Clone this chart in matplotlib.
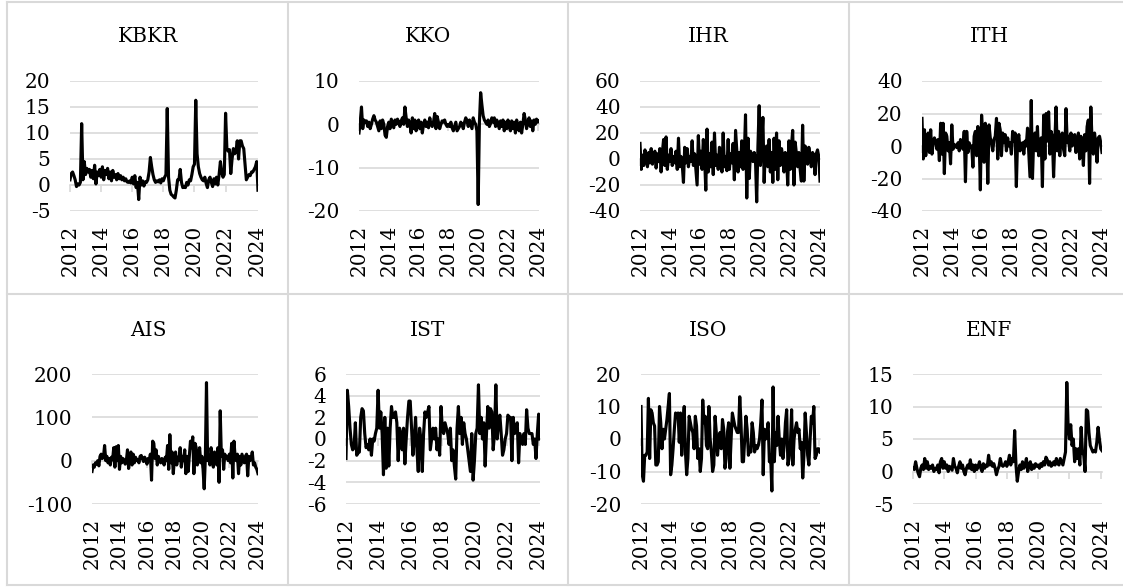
import numpy as np
import matplotlib
matplotlib.use("Agg")
from matplotlib import pyplot as plt
from matplotlib.lines import Line2D

plt.rcParams['font.family'] = ['DejaVu Serif']
plt.rcParams['axes.unicode_minus'] = False

# monthly series, 2012-01 .. 2024-02 (146 points)
years = ['2012', '2014', '2016', '2018', '2020', '2022', '2024']

kbkr = [1.0, 2.2, 2.5, 1.8, 1.0, -0.3, 0.2, 0.0, 0.5,
        11.8,
        1.0, 4.5, 2.0, 3.2, 2.5, 3.0, 1.5, 2.8, 1.2, 3.8, 0.2, 2.5, 1.8, 3.0,
        1.5, 3.5, 1.0, 2.8, 2.0, 3.2, 1.2, 2.5, 0.8, 2.8, 1.5, 2.0, 1.0, 2.2, 1.2, 1.8, 1.0, 1.5, 0.8, 1.2, 0.6, 0.5, 0.8, 0.4,
        1.5, 0.2, 1.8, -0.5, 0.5, -2.8, 1.5, 0.0, 0.8, -0.2, 0.6, 0.5,
        1.0, 2.5, 5.3, 3.5, 2.0, 1.0, 0.5, 0.8, 0.6, 1.0, 0.4, 1.2,
        0.8, 1.5, 2.0, 14.7, 1.5, -1.0, -1.8, -2.0, -2.3, -2.5, -1.0, 1.0,
        1.0, 3.0, 0.5, -0.5, -0.3, -0.5, 0.5, 0.0, 1.0, 0.8, 2.0, 3.5,
        4.0, 16.3, 6.0, 3.5, 2.2, 1.5, 1.0, 0.8, 1.5, 0.3, -0.5, 1.0,
        1.5, 0.5, -0.3, 1.2, 0.2, 1.5, 0.0, 2.0, 4.5, 2.5, 1.5, 2.0,
        13.8, 7.0, 6.5, 6.8, 2.2, 5.0, 7.0, 6.0, 6.5, 8.5, 5.0, 8.5,
        8.5, 7.5, 7.0, 4.0, 1.0, 1.5, 2.0, 1.8, 2.5, 2.5, 3.0, 3.5, 4.5, -1.0]

kko = [-2.0, 0.5, 4.0, -1.0, 1.0, 0.5, 0.8, -0.5, 0.5, -1.0, 0.0, 1.2,
       2.0, 1.0, 0.5, -0.5, -1.5, 0.8, -1.0, 1.0, 0.0, -2.5, -3.0, -0.5,
       0.5, -1.0, 1.2, 0.2, -0.8, 1.0, 0.0, 1.2, 0.5, -0.5, 0.8, 1.5,
       0.0, 4.0, 1.5, -0.5, 1.0, 0.0, -2.0, 1.5, -1.0, 1.0, -1.5, 0.5,
       1.0, -1.0, 0.5, -2.0, 0.0, 1.0, -0.5, 0.5, -0.8, 1.5, 0.0, -0.5,
       0.5, 2.5, -1.0, 1.8, 0.5, -1.0, 0.0, 0.8, 0.5, 1.0, 0.0, -0.5,
       0.0, -0.5, 0.5, -0.8, -1.5, -0.5, 0.5, -1.5, -1.0, -0.5, 0.5, 0.0,
       -1.0, 0.5, 1.5, 0.8, -0.5, 1.0, 0.0, -1.0, 1.5, 0.5, 0.0, -1.5,
       -18.5, 0.5, 7.3, 4.5, 2.0, 1.0, 0.5, 0.0, 1.0, -0.5, 0.2, 1.5,
       0.5, 1.5, -0.5, 1.0, 0.0, -1.0, 0.8, -0.5, 1.0, -1.5, 0.5, -1.0,
       1.0, -0.5, -1.5, 0.8, -1.0, 0.5, -2.0, 1.0, -0.5, -1.5, 0.5, -2.0,
       0.0, 2.5, 1.0, -1.0, 0.5, 1.5, -0.5, 0.8, -1.5, 1.0, 0.0, 1.2, 0.5, 0.8]

ihr = [12, -8, 3, -5, 7, 2, -6, 5, -3, 8, -4, 2,
       6, -7, 4, -2, 8, -10, 5, 15, -5, 17, -8, 3,
       -2, 8, -5, 2, -3, 6, -8, 16, -6, 2, -4, -18,
       9, -3, 8, -6, 2, -2, 14, -5, 4, -8, -20, 18,
       -4, 6, -8, 15, 2, -24, 23, -10, 4, -6, 13, -12,
       20, -5, 3, -8, 9, 4, -10, 20, -6, 2, -9, 15,
       -8, 4, -3, 12, -16, 22, 6, -10, 5, -6, 14, -8,
       2, 34, -30, 16, -15, 6, 3, -2, 5, 0, -33, 10,
       41, -5, 12, 32, -18, 8, 10, -6, 15, -10, 5, -18,
       16, -8, 20, -16, 14, -5, 8, 2, -10, 5, 3, -20,
       14, -8, 10, 22, -20, 13, 4, -6, 5, -8, -17, 26,
       -17, 10, 8, -4, 9, 2, -6, 5, 3, -12, 4, 7, 2, -17]

ith = [17, -8, 10, -6, 3, 8, -4, 10, -5, 2, 5, 3,
       -2, 4, -9, 14, -5, 14, -17, 8, 6, -3, 2, -11,
       13, -2, 1, 0, -1, 2, -3, 4, 0, -2, 9, -22,
       9, -4, 2, -1, 0, -13, 6, 9, -6, 12, 5, -27,
       19, 6, -10, 14, 9, -23, 13, 5, 2, -3, 4, 6,
       17, -8, 14, 10, -6, 8, 2, 7, -3, 5, 0, 2,
       -5, 9, 3, 8, -25, 4, 7, -3, 1, 2, -5, 3,
       0, 11, -4, -19, 28, -20, 5, 8, -3, 12, -6, 3,
       5, -25, 19, -8, 20, 3, 21, -5, 9, 6, -19, 2,
       24, -3, 9, -6, 5, 8, -2, -6, 23, 2, 6, -3,
       8, 0, 5, 7, -4, 3, 8, -8, 6, 2, -12, 7,
       -3, 12, 16, -23, 24, 3, -5, 8, 1, -10, 5, 6, 2, -4]

ais = [-25, -10, -15, -5, -8, 0, -12, 10, 15, 5, 8, 35,
       0, 10, -5, 5, -10, 8, 2, 30, -15, 32, 0, 35,
       -20, 10, -5, 5, 2, -8, 0, 25, -18, 10, 20, -10,
       15, -5, 8, 0, 3, -5, 10, 12, 5, -2, 8, 2,
       -8, 5, 0, 15, -45, 45, 40, 5, 25, -10, 10, 0,
       -5, 5, 2, -10, 8, 0, 35, -20, 60, -5, 20, -30,
       5, 20, -10, 8, 0, 30, -15, 10, 0, 25, -30, 10,
       -25, 10, 45, 30, 55, -30, 40, 30, -10, 5, 30, -5,
       10, -20, -65, 5, 180, 0, 10, -10, 30, 5, -15, 20,
       5, -10, 30, -50, 115, 10, 25, -20, 15, 5, 10, 0,
       15, -5, 40, -40, 45, 10, 0, 15, -30, 10, -10, 15,
       5, -5, 10, 15, -35, 10, 0, 5, 20, -10, -5, -15, -20, -30]

ist = [-1.8, 4.5, 3.0, 1.0, -0.5, -1.0, -0.8, 1.5, -1.5, -1.3, -1.2, 2.0,
       2.8, 2.6, 0.5, -0.8, -0.5, -1.0, 0.0, -1.5, 0.0, -0.2, 0.5, 1.0,
       4.5, 1.0, 2.5, 0.5, -3.3, 2.0, -2.7, 1.0, -2.5, 1.0, 3.0, 2.0,
       2.0, 2.5, 1.5, -2.0, 1.0, 0.5, -1.0, 1.0, -2.3, 0.0, 2.0, 3.5,
       3.5, 1.0, -1.5, 0.0, 2.0, -1.0, -3.0, 1.0, 0.0, -3.0, 0.5, 2.5,
       2.0, 2.5, 3.0, -1.0, 0.0, 1.0, 0.0, 1.0, -1.0, 0.0, -1.5, 3.0,
       1.0, 0.5, 1.5, 1.0, 0.5, -0.5, 1.0, -2.0, -1.0, -2.5, -3.7, 1.0,
       3.0, 0.5, 2.0, -0.5, 1.5, 0.5, 0.0, -1.0, -2.0, -3.0, 0.5, -3.8,
       -2.0, 0.5, 1.0, 5.0, 0.5, 2.0, 0.0, 1.5, -2.5, 0.5, 3.0, 1.0,
       2.8, 2.5, -1.0, 0.5, 5.0, 0.0, 1.5, 2.2, 0.5, -1.5, -1.0, 0.0,
       0.5, 2.2, 2.0, 2.0, -2.0, 2.0, 0.5, 1.0, 1.5, -2.2, 0.5, 0.0,
       -0.5, 0.5, -0.5, 2.7, 1.0, 0.5, 0.5, 0.5, -0.5, 0.0, -1.8, 0.5, 2.3, 0.0]

iso = [10, -11, -13, -5, -5, -4, 12.5, -6, 9, 8, 5, 4,
       -8, -8, -7, 10, 5, -3, 3, 0, 3, 6, 10, 14,
       -11, -8, -3, 3, 8, 7, 8, -1, 8, -5, 4, 10,
       -4, -11, -6, 7, 5, 3, 2, -3, 7, 4, -6, -3,
       -10, -6, 12, 5, 7, -2, -3, 10, 0, -4, -10, -8,
       7, 2, -5, 0, 2, -3, 6, 3, -9, -6, 2, 5,
       -9, 0, 8, 6, 4, 3, 2, 2, 13, 5, -7, -7,
       0, 7, 3, -5, -3, -4, 5, 2, -4, -2, -3, -2,
       0, 5, 12, -11, 3, 0, 2, 5, -7, -5, -16, 16,
       -7, 2, -2, 7, 0, -5, 0, -6, -2, 5, 9, -8,
       -6, -2, 9, -8, 0, 3, 5, 2, 3, -3, -1, -12,
       -5, 8, 2, -5, -8, 0, 7, 5, 10, -6, -5, -3, -3, -4]

enf = [0.5, 0.3, 1.5, 0.5, -0.3, -0.8, 0.5, 1.0, 0.3, 2.0, 0.5, 1.5,
       0.3, 0.8, 0.5, 1.0, 0.0, 0.5, 0.3, 1.0, -0.2, 1.5, 2.0, 0.5,
       1.5, 0.5, 1.0, 0.0, 0.8, 0.5, 0.2, 2.0, 0.8, 0.5, -0.2, 0.8,
       1.5, 0.5, 1.0, 0.0, -0.5, 0.5, 1.0, 0.5, 1.8, 0.3, 1.0, 0.0,
       1.0, 0.3, 0.8, 1.5, 0.5, 0.0, 1.2, 0.5, 1.0, 0.8, 2.5, 1.0,
       1.5, 0.8, 1.2, 0.5, -0.5, 0.3, 0.8, 2.0, 1.0, 0.8, 1.0, 1.5,
       0.8, 1.5, 2.5, 1.0, 2.0, 1.5, 6.3, 1.0, -1.5, 0.0, 1.0, 0.3,
       1.5, 0.5, 1.0, 2.0, 0.0, 1.0, 1.5, 0.3, 1.0, 0.5, 1.2, 0.8,
       1.0, 0.5, 1.2, 0.8, 1.5, 1.0, 2.2, 1.8, 1.0, 1.5, 0.8, 1.0,
       1.5, 1.0, 2.0, 1.2, 1.0, 2.0, 1.5, 1.0, 2.0, 3.0, 13.7, 7.0,
       5.0, 7.2, 4.0, 5.0, 1.5, 3.5, 2.0, 3.5, 1.0, 6.8, 3.0, 2.5,
       0.0, 9.5, 9.3, 6.0, 4.0, 3.5, 3.0, 3.2, 3.0, 4.5, 6.8, 5.0, 3.5, 3.2]

W, H = 1123, 587
GRID = '#d9d9d9'
FS = 14.5

# name, data, y ticks, plot box in pixels (left, top, right, bottom), panel centre x, title y
panels = [
    ('KBKR', kbkr, [-5, 0, 5, 10, 15, 20], (70, 81, 258, 211), 148, 37),
    ('KKO', kko, [-20, -10, 0, 10], (359, 81, 539, 211), 428, 37),
    ('IHR', ihr, [-40, -20, 0, 20, 40, 60], (640, 81, 820, 211), 708, 37),
    ('ITH', ith, [-40, -20, 0, 20, 40], (922, 81, 1102, 211), 989, 37),
    ('AIS', ais, [-100, 0, 100, 200], (92, 374, 258, 504), 148, 330),
    ('IST', ist, [-6, -4, -2, 0, 2, 4, 6], (346, 374, 540, 504), 428, 330),
    ('ISO', iso, [-20, -10, 0, 10, 20], (641, 374, 820, 504), 708, 330),
    ('ENF', enf, [-5, 0, 5, 10, 15], (913, 374, 1102, 504), 989, 330),
]

fig = plt.figure(figsize=(W / 100, H / 100), dpi=100)

# panel borders
for xp in [7, 288, 568, 849]:
    fig.add_artist(Line2D([xp / W, xp / W], [1 - 2 / H, 1 - 585 / H], color=GRID, lw=1.5))
for yp in [2, 294, 585]:
    fig.add_artist(Line2D([7 / W, 1], [1 - yp / H, 1 - yp / H], color=GRID, lw=1.5))

for name, vals, yt, box, cx, ty in panels:
    l, t, r, b = box
    ax = fig.add_axes([l / W, 1 - b / H, (r - l) / W, (b - t) / H])
    x = np.arange(len(vals))
    ax.plot(x, vals, color='black', lw=2.25, solid_joinstyle='round')
    ax.set_xlim(0, len(vals) - 1)
    ax.set_ylim(yt[0], yt[-1])
    ax.set_yticks(yt)
    ax.set_yticklabels([str(v) for v in yt])
    ax.tick_params(axis='y', length=0, pad=14, labelsize=FS)
    ax.grid(axis='y', color=GRID, lw=1.2)
    ax.set_axisbelow(True)
    for s in ['top', 'right', 'left']:
        ax.spines[s].set_visible(False)
    # category axis crosses at zero
    ax.spines['bottom'].set_position(('data', 0))
    ax.spines['bottom'].set_color(GRID)
    ax.spines['bottom'].set_linewidth(1.2)
    ax.spines['bottom'].set_zorder(0.5)
    xt = np.arange(0, len(vals), 24)
    ax.set_xticks(xt)
    ax.tick_params(axis='x', direction='out', length=5, color=GRID, width=1.2, labelbottom=False)
    # labels sit low, under the plot
    sec = ax.secondary_xaxis(0.0)
    sec.set_xticks(xt, years)
    sec.spines['bottom'].set_visible(False)
    sec.tick_params(length=0, pad=10, labelsize=FS, labelrotation=90)
    fig.text(cx / W, 1 - ty / H, name, ha='center', va='center', fontsize=FS)

fig.savefig('out.png', dpi=100)
